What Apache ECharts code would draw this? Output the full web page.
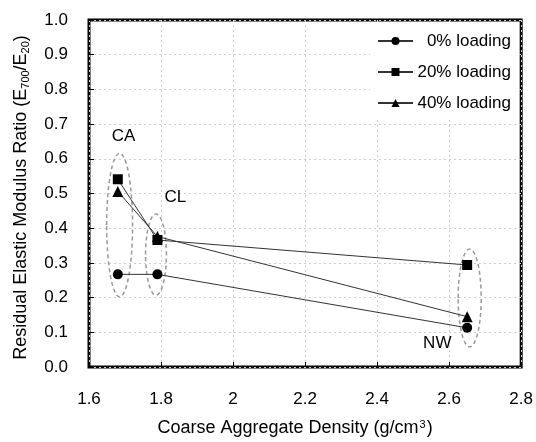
<!DOCTYPE html>
<html>
<head>
<meta charset="utf-8">
<script src="https://cdn.jsdelivr.net/npm/echarts@6/dist/echarts.min.js"></script>
<style>html,body{margin:0;padding:0;background:#fff}#c{width:536px;height:442px}</style>
</head>
<body>
<div id="c"></div>
<script>
var densities = [1.68, 1.79, 2.65];
var load0 = [0.267, 0.267, 0.113];
var load20 = [0.541, 0.366, 0.294];
var load40 = [0.506, 0.376, 0.145];
var seriesNames = ['0% loading', '20% loading', '40% loading'];
var xTicks = [1.6, 1.8, 2.0, 2.2, 2.4, 2.6, 2.8];
// group annotations: [centerX, centerY, halfWidth, halfHeight]
var groupEllipses = [[1.685, 0.409, 0.036, 0.207], [1.786, 0.324, 0.029, 0.117], [2.657, 0.199, 0.032, 0.141]];
var groupNames = ['CA', 'CL', 'NW'];
var groupLabelPos = [[1.696, 0.666], [1.84, 0.49], [2.567, 0.069]];

var FONT = "'Liberation Sans', Arial, sans-serif";
function pairs(vals) { return densities.map(function (d, i) { return [d, vals[i]]; }); }
function lineSeries(name, vals, sym, size) {
  return {
    name: name, type: 'line', data: pairs(vals), symbol: sym, symbolSize: size,
    lineStyle: { color: '#333', width: 1 }, itemStyle: { color: '#000' },
    z: 3, animation: false
  };
}
var chart = echarts.init(document.getElementById('c'), null, { renderer: 'canvas' });
chart.setOption({
  animation: false,
  textStyle: { fontFamily: FONT, color: '#000' },
  grid: { left: 89, right: 14, top: 20, bottom: 75, show: true, borderColor: '#000', borderWidth: 3, backgroundColor: 'transparent' },
  legend: {
    data: seriesNames, orient: 'vertical', left: 370, top: 25, padding: [6, 6, 6, 7],
    backgroundColor: '#fff', itemWidth: 35, itemHeight: 10, itemGap: 11, z: 10,
    formatter: function (n) { return '{a|' + n + '}'; },
    textStyle: { fontFamily: FONT, fontSize: 17, color: '#000', lineHeight: 20,
      rich: { a: { width: 93, align: 'right', fontFamily: FONT, fontSize: 17, lineHeight: 20 } } }
  },
  xAxis: {
    type: 'value', min: 1.6, max: 2.8, interval: 0.2,
    axisLine: { show: false },
    axisTick: { show: true, inside: true, length: 5, lineStyle: { color: '#000', width: 1 } },
    axisLabel: { fontFamily: FONT, fontSize: 17, color: '#000', margin: 24,
      formatter: function (v) { var r = Math.round(v * 10) / 10; return xTicks.indexOf(r) >= 0 ? (r === 2 ? '2' : r.toFixed(1)) : ''; } },
    splitLine: { show: true, lineStyle: { color: '#cfcfcf', type: [2, 3], width: 1 } },
    name: 'Coarse Aggregate Density (g/cm{sup|3})', nameLocation: 'middle', nameGap: 52,
    nameTextStyle: { fontFamily: FONT, fontSize: 18, color: '#000', padding: [0, 20, 0, 0],
      rich: { sup: { fontFamily: FONT, fontSize: 11, verticalAlign: 'top', lineHeight: 12, padding: [0, 1, 0, 1] } } }
  },
  yAxis: {
    type: 'value', min: 0, max: 1, interval: 0.1,
    axisLine: { show: false },
    axisTick: { show: true, inside: true, length: 5, lineStyle: { color: '#000', width: 1 } },
    axisLabel: { fontFamily: FONT, fontSize: 17, color: '#000', margin: 21, formatter: function (v) { return v.toFixed(1); } },
    splitLine: { show: true, lineStyle: { color: '#cfcfcf', type: [2, 3], width: 1 } },
    name: 'Residual Elastic Modulus Ratio (E{sub|700}/E{sub|20})', nameLocation: 'middle', nameGap: 58, nameRotate: 90,
    nameTextStyle: { fontFamily: FONT, fontSize: 18, color: '#000', lineHeight: 20, padding: [0, 8, 0, 0],
      rich: { sub: { fontFamily: FONT, fontSize: 11, verticalAlign: 'bottom', lineHeight: 12 } } }
  },
  series: [
    {
      type: 'custom', name: 'groups', silent: true, z: 1,
      data: groupEllipses,
      renderItem: function (params, api) {
        var c = api.coord([api.value(0), api.value(1)]);
        var s = api.size([api.value(2), api.value(3)]);
        return { type: 'ellipse', shape: { cx: c[0], cy: c[1], rx: s[0], ry: s[1] },
          style: { fill: 'none', stroke: '#999', lineWidth: 1.5, lineDash: [4, 3] } };
      }
    },
    {
      type: 'scatter', name: 'groupLabels', silent: true, symbolSize: 0, z: 4,
      itemStyle: { opacity: 1 },
      data: groupNames.map(function (n, i) { return { name: n, value: groupLabelPos[i] }; }),
      label: { show: true, position: 'inside', formatter: '{b}', fontFamily: FONT, fontSize: 17, color: '#000', opacity: 1 }
    },
    lineSeries(seriesNames[0], load0, 'circle', 10),
    lineSeries(seriesNames[1], load20, 'rect', 10),
    lineSeries(seriesNames[2], load40, 'triangle', 11)
  ]
});
</script>
</body>
</html>
